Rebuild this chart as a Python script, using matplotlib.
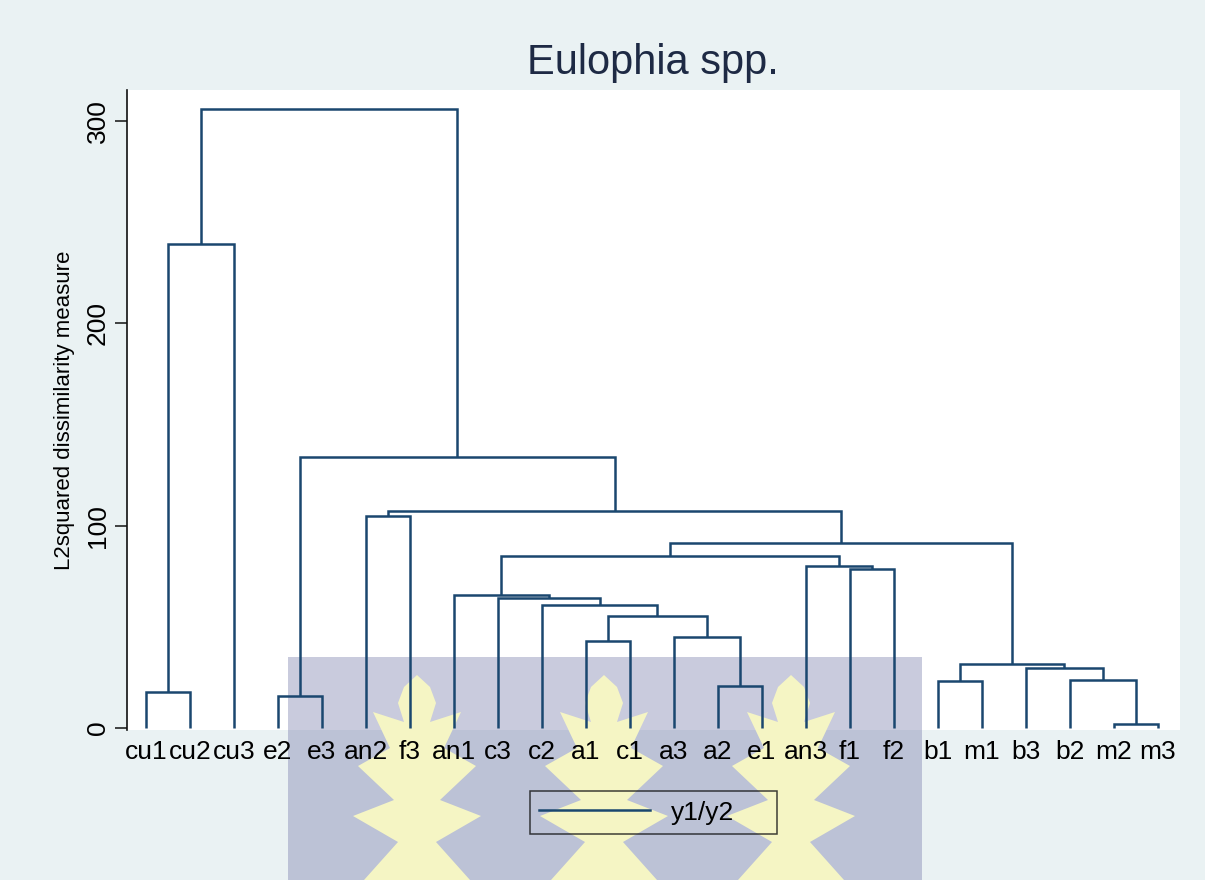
import matplotlib
matplotlib.use("Agg")
import matplotlib.pyplot as plt
from matplotlib.lines import Line2D
from matplotlib.patches import Polygon, Rectangle

plt.rcParams["font.family"] = ["Liberation Sans", "DejaVu Sans"]

# leaf order along the x axis
leaves = ["cu1", "cu2", "cu3", "e2", "e3", "an2", "f3", "an1", "c3", "c2", "a1", "c1",
          "a3", "a2", "e1", "an3", "f1", "f2", "b1", "m1", "b3", "b2", "m2", "m3"]

# agglomeration steps: node name, the two joined members, dissimilarity
merge_names = ["cu12", "cu", "e23", "an2f3", "a1c1", "a2e1", "a3ae", "aa", "c2aa", "c3aa",
               "an1c", "f12", "an3f", "cf", "b1m1", "m23", "b2m", "b3m", "bm", "cfbm",
               "anfx", "eanf", "root"]
merge_left = ["cu1", "cu12", "e2", "an2", "a1", "a2", "a3", "a1c1", "c2", "c3",
              "an1", "f1", "an3", "an1c", "b1", "m2", "b2", "b3", "b1m1", "cf",
              "an2f3", "e23", "cu"]
merge_right = ["cu2", "cu3", "e3", "f3", "c1", "e1", "a2e1", "a3ae", "aa", "c2aa",
               "c3aa", "f2", "f12", "an3f", "m1", "m3", "m23", "b2m", "b3m", "bm",
               "cfbm", "anfx", "eanf"]
merge_height = [17.9, 239.1, 15.8, 104.8, 43.0, 20.8, 45.1, 55.4, 60.8, 64.1,
                65.7, 78.6, 79.9, 85.0, 23.4, 2.0, 23.7, 29.5, 31.6, 91.4,
                107.3, 133.8, 306.0]

y_ticks = [0, 100, 200, 300]

LINE = "#1a476f"
BG = "#eaf2f3"
W, H = 1205, 880


def fx(px):
    return px / W


def fy(py):
    return 1 - py / H


fig = plt.figure(figsize=(W / 100, H / 100), dpi=100, facecolor=BG)
ax_box = [fx(127), fy(730), fx(1180 - 127), (730 - 90) / H]

# white plot region and the logo watermark sit under the axes content
fig.add_artist(Rectangle((ax_box[0], ax_box[1]), ax_box[2], ax_box[3], transform=fig.transFigure,
                         facecolor="white", edgecolor="none", zorder=-3))
fig.add_artist(Rectangle((fx(288), fy(730)), fx(922 - 288), (730 - 657) / H,
                         transform=fig.transFigure, facecolor="#c9cbdd", edgecolor="none", zorder=-2))
fig.add_artist(Rectangle((fx(288), 0), fx(922 - 288), fy(730), transform=fig.transFigure,
                         facecolor="#bcc2d6", edgecolor="none", zorder=-2))
half = [(0, 675), (13, 687), (19, 703), (13, 722), (44, 712), (27, 748), (59, 766),
        (23, 800), (64, 816), (19, 842), (53, 880)]
for cx in [417, 604, 791]:
    pts = [(cx + dx, y) for dx, y in half] + [(cx - dx, y) for dx, y in reversed(half)]
    fig.add_artist(Polygon([(fx(x), fy(y)) for x, y in pts], closed=True,
                           transform=fig.transFigure, facecolor="#f5f5c4",
                           edgecolor="none", zorder=-1))

ax = fig.add_axes(ax_box)
ax.patch.set_visible(False)

pos = {name: float(i) for i, name in enumerate(leaves)}
hgt = {name: 0.0 for name in leaves}
for name, a, b, h in zip(merge_names, merge_left, merge_right, merge_height):
    xa, xb = pos[a], pos[b]
    ax.plot([xa, xa, xb, xb], [hgt[a], h, h, hgt[b]], color=LINE, lw=1.8,
            solid_joinstyle="miter", solid_capstyle="butt")
    pos[name] = (xa + xb) / 2
    hgt[name] = h

ax.set_xlim(-0.43, 23.5)
ax.set_ylim(-1.0, 315.4)

for side in ["top", "right", "bottom"]:
    ax.spines[side].set_visible(False)
ax.spines["left"].set_color("#111111")
ax.spines["left"].set_linewidth(1.2)

ax.set_yticks(y_ticks)
ax.set_yticklabels([str(v) for v in y_ticks], rotation=90, va="center", fontsize=19)
ax.tick_params(axis="y", length=8.5, width=1.1, color="#111111", pad=4)
ax.set_xticks(range(len(leaves)))
ax.set_xticklabels(leaves, fontsize=19)
ax.tick_params(axis="x", length=0, pad=7)
ax.set_ylabel("L2squared dissimilarity measure", fontsize=16, labelpad=8)

fig.text(fx(653), fy(63), "Eulophia spp.", ha="center", va="center",
         fontsize=30, color="#1e2a44")

leg = fig.legend([Line2D([], [], color=LINE, lw=1.8)], ["y1/y2"],
                 loc="center", mode="expand",
                 bbox_to_anchor=(fx(517), fy(840), fx(790 - 517), 55 / H),
                 fontsize=19, handlelength=4.2, handletextpad=0.8, borderpad=0.35,
                 fancybox=False, frameon=True)
leg.get_frame().set_edgecolor("#111111")
leg.get_frame().set_linewidth(1.1)
leg.get_frame().set_facecolor("none")

fig.savefig("out.png", dpi=100, facecolor=BG)
